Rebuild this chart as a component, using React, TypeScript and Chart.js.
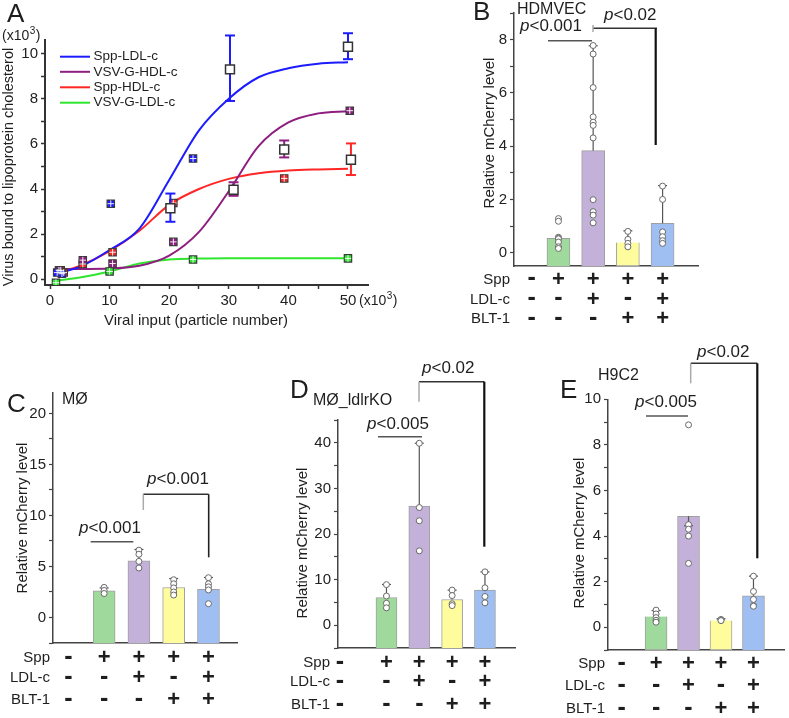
import { useEffect, useRef } from 'react';
import { Chart, registerables } from 'chart.js';

Chart.register(...registerables);

const FONT = '"Liberation Sans", Arial, Helvetica, sans-serif';
Chart.defaults.font.family = FONT;
Chart.defaults.color = '#222';

// ================= Panel A data =================
const aSeriesNames = ['Spp-LDL-c', 'VSV-G-HDL-c', 'Spp-HDL-c', 'VSV-G-LDL-c'];
const aXLabelled = [0, 10, 20, 30, 40, 50];
const aCurveX = [1, 5, 10, 15, 20, 25, 30, 35, 40, 45, 50];
const aCurveSppLdl = [0.27, 0.55, 1.3, 2.25, 4.4, 6.6, 8.0, 8.95, 9.35, 9.55, 9.62];
const aCurveVsvHdl = [0.45, 0.46, 0.48, 0.6, 1.05, 2.1, 3.9, 5.9, 6.95, 7.35, 7.45];
const aCurveSppHdl = [0.28, 0.6, 1.25, 2.15, 3.3, 4.0, 4.45, 4.7, 4.82, 4.87, 4.9];
const aCurveVsvLdl = [-0.06, 0.08, 0.35, 0.7, 0.88, 0.92, 0.93, 0.93, 0.93, 0.93, 0.93];

const aSppLdlX = [1.2, 2.0, 10.2, 24.0];
const aSppLdlY = [0.3, 0.25, 3.35, 5.35];
const aVsvHdlX = [1.5, 5.5, 10.5, 20.7, 50.3];
const aVsvHdlY = [0.4, 0.85, 0.7, 1.66, 7.47];
const aSppHdlX = [1.8, 2.3, 5.5, 10.5, 20.7, 39.3];
const aSppHdlY = [0.4, 0.3, 0.68, 1.2, 3.38, 4.47];
const aVsvLdlX = [1.0, 10.0, 24.0, 50.0];
const aVsvLdlY = [-0.15, 0.35, 0.88, 0.93];

const aSppLdlErrX = [20.2, 30.2, 50.0];
const aSppLdlErrY = [3.15, 9.3, 10.3];
const aSppLdlErrLo = [2.55, 7.9, 9.75];
const aSppLdlErrHi = [3.8, 10.8, 10.9];
const aVsvHdlErrX = [30.8, 39.3];
const aVsvHdlErrY = [3.97, 5.75];
const aVsvHdlErrLo = [3.7, 5.4];
const aVsvHdlErrHi = [4.3, 6.15];
const aSppHdlErrX = [50.5];
const aSppHdlErrY = [5.3];
const aSppHdlErrLo = [4.62];
const aSppHdlErrHi = [6.02];

// ================= Bar panels data =================
const rowNames = ['Spp', 'LDL-c', 'BLT-1'];
const sppRow = ['-', '+', '+', '+', '+'];
const ldlRow = ['-', '-', '+', '-', '+'];
const bltRow = ['-', '-', '-', '+', '+'];

// B: HDMVEC
const bBars = [0.54, 3.83, 0.38, 1.1];
const bErr = [null, 7.77, 0.82, 2.52];
const bPtsGreen = [1.28, 1.18, 0.58, 0.55, 0.52, 0.4, 0.22, 0.16];
const bPtsPurple = [7.78, 7.46, 6.2, 5.1, 4.9, 4.78, 4.31, 1.99, 1.54, 1.41, 1.12];
const bPtsYellow = [0.8, 0.5, 0.35, 0.22];
const bPtsBlue = [2.5, 2.0, 0.78, 0.6, 0.45, 0.35];

// C: MØ
const cBars = [2.61, 5.55, 2.94, 2.77];
const cErr = [2.9, 6.67, 3.82, 3.92];
const cPtsGreen = [2.95, 2.65, 2.35];
const cPtsPurple = [6.6, 6.2, 5.5, 4.85];
const cPtsYellow = [3.7, 3.3, 2.9, 2.5, 2.2];
const cPtsBlue = [3.9, 3.3, 3.0, 2.7, 1.35];

// D: MØ_ldlrKO
const dBars = [6.08, 26.1, 5.63, 7.68];
const dErr = [8.93, 39.9, 7.68, 11.7];
const dPtsGreen = [8.9, 6.4, 4.8, 3.8];
const dPtsPurple = [39.9, 25.8, 22.9, 16.3];
const dPtsYellow = [7.7, 6.5, 4.7, 4.3];
const dPtsBlue = [11.7, 8.2, 6.3, 4.9];

// E: H9C2
const eBars = [0.47, 4.87, 0.29, 1.38];
const eErr = [0.73, 4.45, 0.37, 2.24];
const ePtsGreen = [0.75, 0.58, 0.42, 0.3, 0.22];
const ePtsPurple = [8.88, 4.5, 4.3, 4.0, 2.8];
const ePtsYellow = [0.34, 0.31, 0.29];
const ePtsBlue = [2.24, 1.57, 1.22, 0.95, 0.92];

// ================= styles =================
const A_COLORS = ['#1c1cff', '#8e1f80', '#ff2626', '#2ee62e'];
const BAR_COLORS = ['#9fd99b', '#c3b1d9', '#fffc9e', '#9fbff2'];
const AXIS = '#333';

type Box = { left: number; top: number; width: number; height: number };
type Area = { l: number; t: number; r: number; b: number };

function line(ctx: CanvasRenderingContext2D, x1: number, y1: number, x2: number, y2: number) {
  ctx.beginPath();
  ctx.moveTo(x1, y1);
  ctx.lineTo(x2, y2);
  ctx.stroke();
}

function text(ctx: CanvasRenderingContext2D, s: string, x: number, y: number, font: string, align: CanvasTextAlign = 'left', baseline: CanvasTextBaseline = 'middle') {
  ctx.font = font;
  ctx.textAlign = align;
  ctx.textBaseline = baseline;
  ctx.fillStyle = '#1e1e1e';
  ctx.fillText(s, x, y);
}

function pText(ctx: CanvasRenderingContext2D, rest: string, x: number, y: number, size: number) {
  ctx.font = `italic ${size}px ${FONT}`;
  ctx.textAlign = 'left';
  ctx.textBaseline = 'middle';
  ctx.fillStyle = '#1e1e1e';
  ctx.fillText('p', x, y);
  const w = ctx.measureText('p').width;
  ctx.font = `${size}px ${FONT}`;
  ctx.fillText(rest, x + w, y);
}

function sciText(ctx: CanvasRenderingContext2D, x: number, baseline: number) {
  ctx.fillStyle = '#1e1e1e';
  ctx.textBaseline = 'alphabetic';
  ctx.textAlign = 'left';
  ctx.font = `14px ${FONT}`;
  ctx.fillText('(x10', x, baseline);
  let w = ctx.measureText('(x10').width;
  ctx.font = `10px ${FONT}`;
  ctx.fillText('3', x + w + 0.5, baseline - 6);
  w += ctx.measureText('3').width + 1;
  ctx.font = `14px ${FONT}`;
  ctx.fillText(')', x + w, baseline);
}

function layoutFor(box: Box, area: Area) {
  return {
    padding: {
      left: 0,
      top: area.t - box.top,
      right: box.left + box.width - area.r,
      bottom: 0,
    },
  };
}

// ================= Panel A config =================
function makeAConfig(box: Box, area: Area): any {
  const curves = [aCurveSppLdl, aCurveVsvHdl, aCurveSppHdl, aCurveVsvLdl];
  const markers = [
    { x: aSppLdlX, y: aSppLdlY },
    { x: aVsvHdlX, y: aVsvHdlY },
    { x: aSppHdlX, y: aSppHdlY },
    { x: aVsvLdlX, y: aVsvLdlY },
  ];
  const errs = [
    { x: aSppLdlErrX, y: aSppLdlErrY, lo: aSppLdlErrLo, hi: aSppLdlErrHi, color: A_COLORS[0] },
    { x: aVsvHdlErrX, y: aVsvHdlErrY, lo: aVsvHdlErrLo, hi: aVsvHdlErrHi, color: A_COLORS[1] },
    { x: aSppHdlErrX, y: aSppHdlErrY, lo: aSppHdlErrLo, hi: aSppHdlErrHi, color: A_COLORS[2] },
  ];
  const datasets: any[] = [];
  curves.forEach((c, k) => {
    datasets.push({
      type: 'line',
      label: aSeriesNames[k],
      data: aCurveX.map((x, i) => ({ x, y: c[i] })),
      borderColor: A_COLORS[k],
      borderWidth: 2,
      pointRadius: 0,
      cubicInterpolationMode: 'monotone',
      fill: false,
      order: 3,
    });
  });
  markers.forEach((m, k) => {
    datasets.push({
      type: 'scatter',
      label: 'm' + k,
      data: m.x.map((x, i) => ({ x, y: m.y[i] })),
      pointStyle: 'rect',
      pointRadius: 5.2,
      backgroundColor: A_COLORS[k],
      borderColor: '#3a3a3a',
      borderWidth: 1.2,
      order: 2,
    });
    datasets.push({
      type: 'scatter',
      label: 'c' + k,
      data: m.x.map((x, i) => ({ x, y: m.y[i] })),
      pointStyle: 'cross',
      pointRadius: 3.3,
      borderColor: 'rgba(255,255,255,0.9)',
      borderWidth: 1,
      order: 1,
    });
  });
  const errPts: any[] = [];
  errs.forEach((e) => e.x.forEach((x, i) => errPts.push({ x, y: e.y[i] })));
  datasets.push({
    type: 'scatter',
    label: 'errsq',
    data: errPts,
    pointStyle: 'rect',
    pointRadius: 6.3,
    backgroundColor: '#ffffff',
    borderColor: '#333',
    borderWidth: 1.5,
    order: 0,
  });

  const plugin = {
    id: 'panelA',
    beforeDatasetDraw(chart: any, args: any) {
      if (chart.data.datasets[args.index].label !== 'errsq') return;
      const ctx = chart.ctx;
      const xs = chart.scales.x;
      const ys = chart.scales.y;
      ctx.save();
      errs.forEach((e) => {
        ctx.strokeStyle = e.color;
        ctx.lineWidth = 2;
        e.x.forEach((xv, i) => {
          const x = xs.getPixelForValue(xv);
          const y1 = ys.getPixelForValue(e.lo[i]);
          const y2 = ys.getPixelForValue(e.hi[i]);
          line(ctx, x, y1, x, y2);
          line(ctx, x - 5, y1, x + 5, y1);
          line(ctx, x - 5, y2, x + 5, y2);
        });
      });
      ctx.restore();
    },
    afterDraw(chart: any) {
      const ctx = chart.ctx;
      const ox = box.left;
      const oy = box.top;
      ctx.save();
      text(ctx, 'A', 7 - ox, 22 - oy, `26px ${FONT}`, 'left', 'alphabetic');
      sciText(ctx, 2 - ox, 40 - oy);
      sciText(ctx, 359 - ox, 305 - oy);
      ctx.save();
      ctx.translate(8.5 - ox, 167 - oy);
      ctx.rotate(-Math.PI / 2);
      text(ctx, 'Virus bound to lipoprotein cholesterol', 0, 0, `14.5px ${FONT}`, 'center', 'middle');
      ctx.restore();
      text(ctx, 'Viral input (particle number)', 196 - ox, 321 - oy, `15px ${FONT}`, 'center', 'middle');
      const ly = [56.7, 71.8, 87.3, 102.7];
      aSeriesNames.forEach((n, k) => {
        ctx.strokeStyle = A_COLORS[k];
        ctx.lineWidth = 2;
        line(ctx, 60 - ox, ly[k] - oy, 90 - ox, ly[k] - oy);
        text(ctx, n, 93.5 - ox, ly[k] - oy, `13.5px ${FONT}`, 'left', 'middle');
      });
      ctx.restore();
    },
  };

  return {
    type: 'line',
    data: { datasets },
    plugins: [plugin],
    options: {
      animation: false,
      responsive: false,
      devicePixelRatio: 1,
      events: [],
      layout: layoutFor(box, area),
      plugins: { legend: { display: false }, tooltip: { enabled: false } },
      scales: {
        x: {
          type: 'linear',
          min: -0.84,
          max: 53.36,
          offset: false,
          afterFit: (s: any) => { s.height = box.top + box.height - area.b; },
          grid: { drawOnChartArea: false, tickLength: 4, color: AXIS, tickWidth: 1.5 },
          border: { color: AXIS, width: 2 },
          ticks: {
            stepSize: 5,
            includeBounds: false,
            autoSkip: false,
            maxRotation: 0,
            font: { size: 15 },
            color: '#222',
            callback: (v: number) => (aXLabelled.includes(v) ? String(v) : ''),
          },
        },
        y: {
          type: 'linear',
          min: -0.25,
          max: 10.6,
          afterFit: (s: any) => { s.width = area.l - box.left; },
          grid: { drawOnChartArea: false, tickLength: 4, color: AXIS, tickWidth: 1.5 },
          border: { color: AXIS, width: 2 },
          ticks: {
            stepSize: 1,
            includeBounds: false,
            autoSkip: false,
            font: { size: 15 },
            color: '#222',
            callback: (v: number) => (Math.abs(v % 2) < 1e-9 ? String(v) : ''),
          },
        },
      },
    },
  };
}

// ================= Bar panel config =================
type Ann = {
  letter: [string, number, number];
  cell: [string, number, number];
  pTexts: [string, number, number][];
  lines: [number, number, number, number, string, number][];
  yTitle: [number, number];
  rowRight: number;
  rowYs: number[];
  firstColX: number;
};

type BarPanel = {
  box: Box;
  area: Area;
  xMin: number;
  xMax: number;
  yMin: number;
  yMax: number;
  yStep: number;
  yLabelStep: number;
  barWidth: number;
  bars: number[];
  errs: (number | null)[];
  pts: number[][];
  ann: Ann;
};

function makeBarConfig(p: BarPanel): any {
  const { box, area } = p;
  const rows = [sppRow, ldlRow, bltRow];
  const plugin = {
    id: 'barPanel',
    afterDatasetDraw(chart: any, args: any) {
      if (args.meta.type !== 'bar') return;
      const ctx = chart.ctx;
      const xs = chart.scales.x;
      const ys = chart.scales.y;
      ctx.save();
      ctx.strokeStyle = '#555';
      ctx.lineWidth = 1.2;
      p.errs.forEach((e, i) => {
        if (e == null) return;
        const x = xs.getPixelForValue(i + 1);
        const y0 = ys.getPixelForValue(p.bars[i]);
        const y1 = ys.getPixelForValue(e);
        line(ctx, x, y0, x, y1);
        line(ctx, x - 4.5, y1, x + 4.5, y1);
      });
      ctx.restore();
    },
    afterDraw(chart: any) {
      const ctx = chart.ctx;
      const xs = chart.scales.x;
      const ox = box.left;
      const oy = box.top;
      const a = p.ann;
      ctx.save();
      text(ctx, a.letter[0], a.letter[1] - ox, a.letter[2] - oy, `26px ${FONT}`, 'left', 'alphabetic');
      text(ctx, a.cell[0], a.cell[1] - ox, a.cell[2] - oy, `16px ${FONT}`, 'left', 'middle');
      a.pTexts.forEach(([s, x, y]) => pText(ctx, s, x - ox, y - oy, 17));
      a.lines.forEach(([x1, y1, x2, y2, c, w]) => {
        ctx.strokeStyle = c;
        ctx.lineWidth = w;
        line(ctx, x1 - ox, y1 - oy, x2 - ox, y2 - oy);
      });
      ctx.save();
      ctx.translate(a.yTitle[0] - ox, a.yTitle[1] - oy);
      ctx.rotate(-Math.PI / 2);
      text(ctx, 'Relative mCherry level', 0, 0, `15px ${FONT}`, 'center', 'middle');
      ctx.restore();
      rows.forEach((row, r) => {
        const y = a.rowYs[r] - oy;
        text(ctx, rowNames[r], a.rowRight - ox, y, `15px ${FONT}`, 'right', 'middle');
        row.forEach((sym, c) => {
          const x = c === 0 ? a.firstColX - ox : xs.getPixelForValue(c);
          text(ctx, sym, x, y + (sym === '-' ? -1 : 0), `bold ${sym === '-' ? 25 : 22}px ${FONT}`, 'center', 'middle');
        });
      });
      ctx.restore();
    },
  };

  const scatter: any[] = [];
  p.pts.forEach((arr, i) => arr.forEach((v) => scatter.push({ x: i + 1, y: v })));

  return {
    type: 'bar',
    data: {
      datasets: [
        {
          type: 'bar',
          data: p.bars.map((v, i) => ({ x: i + 1, y: [p.yMin, v] })),
          backgroundColor: BAR_COLORS,
          borderColor: '#a0a0a0',
          borderWidth: 1,
          borderSkipped: 'start',
          barThickness: p.barWidth,
          order: 2,
        },
        {
          type: 'scatter',
          data: scatter,
          pointStyle: 'circle',
          pointRadius: 3,
          backgroundColor: '#ffffff',
          borderColor: '#6a6a6a',
          borderWidth: 1,
          order: 0,
        },
      ],
    },
    plugins: [plugin],
    options: {
      animation: false,
      responsive: false,
      devicePixelRatio: 1,
      events: [],
      layout: layoutFor(box, area),
      plugins: { legend: { display: false }, tooltip: { enabled: false } },
      scales: {
        x: {
          type: 'linear',
          min: p.xMin,
          max: p.xMax,
          offset: false,
          afterFit: (s: any) => { s.height = box.top + box.height - area.b; },
          grid: { display: false, offset: false },
          border: { display: true, color: '#444', width: 1.5 },
          ticks: { display: false },
        },
        y: {
          type: 'linear',
          min: p.yMin,
          max: p.yMax,
          afterFit: (s: any) => { s.width = area.l - box.left; },
          grid: { drawOnChartArea: false, tickLength: 4, color: '#444', tickWidth: 1.2 },
          border: { color: '#444', width: 1.5 },
          ticks: {
            stepSize: p.yStep,
            includeBounds: false,
            autoSkip: false,
            font: { size: 15 },
            color: '#222',
            callback: (v: number) => (Math.abs(v % p.yLabelStep) < 1e-9 && v >= 0 ? String(v) : ''),
          },
        },
      },
    },
  };
}

// ================= panels =================
const boxA: Box = { left: 0, top: 0, width: 410, height: 335 };
const areaA: Area = { l: 45, t: 40, r: 368, b: 285 };

const panelB: BarPanel = {
  box: { left: 460, top: 0, width: 329, height: 330 },
  area: { l: 514, t: 13, r: 698, b: 266 },
  xMin: -0.28, xMax: 5.02, yMin: -0.5, yMax: 9, yStep: 1, yLabelStep: 2, barWidth: 23,
  bars: bBars, errs: bErr, pts: [bPtsGreen, bPtsPurple, bPtsYellow, bPtsBlue],
  ann: {
    letter: ['B', 473, 20],
    cell: ['HDMVEC', 517, 10],
    pTexts: [['<0.001', 520, 26.5], ['<0.02', 604, 15.5]],
    lines: [
      [548, 40.7, 592, 40.7, '#555', 1.5],
      [593, 28.3, 657, 28.3, '#333', 1.5],
      [593, 25, 593, 32, '#aaa', 1.5],
      [655.7, 28.3, 655.7, 145, '#111', 2.2],
    ],
    yTitle: [490, 133],
    rowRight: 510,
    rowYs: [279.5, 299.5, 319],
    firstColX: 531.7,
  },
};

const panelC: BarPanel = {
  box: { left: 0, top: 380, width: 255, height: 338 },
  area: { l: 53, t: 393, r: 237, b: 643 },
  xMin: -0.47, xMax: 4.82, yMin: -2.5, yMax: 22, yStep: 2.5, yLabelStep: 5, barWidth: 22,
  bars: cBars, errs: cErr, pts: [cPtsGreen, cPtsPurple, cPtsYellow, cPtsBlue],
  ann: {
    letter: ['C', 7, 412],
    cell: ['MØ', 62, 400],
    pTexts: [['<0.001', 79, 528.5], ['<0.001', 147, 479.5]],
    lines: [
      [90.7, 541.7, 133.3, 541.7, '#555', 1.5],
      [143.3, 494.3, 208.7, 494.3, '#333', 1.5],
      [143.3, 494.3, 143.3, 510, '#aaa', 1.5],
      [208.7, 494.3, 208.7, 557.3, '#222', 1.6],
    ],
    yTitle: [23.3, 518],
    rowRight: 50,
    rowYs: [658.3, 678.3, 700],
    firstColX: 68.3,
  },
};

const panelD: BarPanel = {
  box: { left: 260, top: 360, width: 269, height: 358 },
  area: { l: 338, t: 420, r: 515, b: 648 },
  xMin: -0.476, xMax: 4.915, yMin: -5, yMax: 45, yStep: 5, yLabelStep: 10, barWidth: 21,
  bars: dBars, errs: dErr, pts: [dPtsGreen, dPtsPurple, dPtsYellow, dPtsBlue],
  ann: {
    letter: ['D', 290, 398],
    cell: ['MØ_ldlrKO', 313, 400.5],
    pTexts: [['<0.005', 367, 424], ['<0.02', 422, 368.5]],
    lines: [
      [378, 436.7, 422, 436.7, '#555', 1.5],
      [419, 381.7, 484.3, 381.7, '#333', 1.5],
      [419, 381.7, 419, 401.7, '#aaa', 1.5],
      [484.3, 381.7, 484.3, 546.7, '#111', 2.2],
    ],
    yTitle: [303.3, 543],
    rowRight: 330,
    rowYs: [663.3, 681.7, 705],
    firstColX: 340,
  },
};

const panelE: BarPanel = {
  box: { left: 529, top: 330, width: 260, height: 388 },
  area: { l: 608, t: 399.3, r: 787, b: 650 },
  xMin: -0.48, xMax: 4.94, yMin: -1, yMax: 10, yStep: 1, yLabelStep: 2, barWidth: 22,
  bars: eBars, errs: eErr, pts: [ePtsGreen, ePtsPurple, ePtsYellow, ePtsBlue],
  ann: {
    letter: ['E', 560, 398],
    cell: ['H9C2', 598, 376],
    pTexts: [['<0.005', 635, 402.5], ['<0.02', 697, 352.5]],
    lines: [
      [646, 416, 688, 416, '#555', 1.5],
      [690.7, 363.3, 757.3, 363.3, '#333', 1.5],
      [690.7, 363.3, 690.7, 383.3, '#aaa', 1.5],
      [757.3, 363.3, 757.3, 558.3, '#111', 2.2],
    ],
    yTitle: [580, 533],
    rowRight: 605,
    rowYs: [664.3, 686, 709.3],
    firstColX: 621.7,
  },
};

function ChartCanvas({ box, make }: { box: Box; make: () => any }) {
  const ref = useRef<HTMLCanvasElement | null>(null);
  useEffect(() => {
    if (!ref.current) return;
    const chart = new Chart(ref.current, make());
    return () => chart.destroy();
  }, []);
  return (
    <canvas
      ref={ref}
      width={box.width}
      height={box.height}
      style={{ position: 'absolute', left: box.left, top: box.top, width: box.width, height: box.height }}
    />
  );
}

export default function App() {
  return (
    <div style={{ position: 'absolute', left: 0, top: 0, width: 789, height: 718, background: '#fff', overflow: 'hidden' }}>
      <ChartCanvas box={boxA} make={() => makeAConfig(boxA, areaA)} />
      <ChartCanvas box={panelB.box} make={() => makeBarConfig(panelB)} />
      <ChartCanvas box={panelC.box} make={() => makeBarConfig(panelC)} />
      <ChartCanvas box={panelD.box} make={() => makeBarConfig(panelD)} />
      <ChartCanvas box={panelE.box} make={() => makeBarConfig(panelE)} />
    </div>
  );
}
